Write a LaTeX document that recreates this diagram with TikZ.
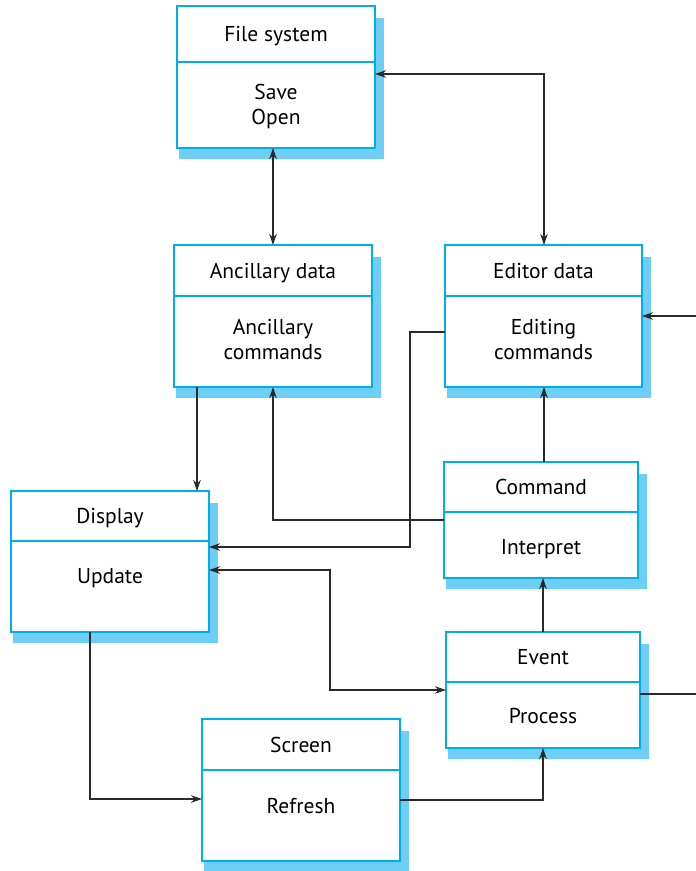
\documentclass[tikz,border=0pt]{standalone}
\usepackage{fontspec}
\setmainfont{PT Sans}
\usetikzlibrary{arrows.meta}
\definecolor{boxc}{HTML}{00AEEF}
\definecolor{shadowc}{HTML}{6DCFF6}
\definecolor{linec}{HTML}{2A2A2A}
\tikzset{
  umlframe/.style={draw=boxc, line width=1.6pt, fill=white, inner sep=0pt, outer sep=0pt},
  divline/.style={draw=boxc, line width=1.6pt},
  umltext/.style={font=\fontsize{21.5}{24.5}\selectfont, align=center, inner sep=0pt, text=black, anchor=base},
  conn/.style={draw=linec, line width=1.2pt},
  tip/.tip={Stealth[length=11pt,width=7.5pt]},
}
\newcommand\umlbox[9]{%
  \fill[shadowc] ({#2+2},{#3+12}) rectangle ({#4+9},{#5+11});
  \node[umlframe, minimum width=#4pt-#2pt, minimum height=#5pt-#3pt] (#1) at ({(#2+#4)/2},{(#3+#5)/2}) {};
  \draw[divline] (#2,#6) -- (#4,#6);
  \node[umltext] (#1-t) at ({(#2+#4)/2},{(#3+#6)/2+7.5}) {#7};
  \node[umltext] (#1-b) at ({(#2+#4)/2},{#6+#9}) {#8};
}
\begin{document}
\begin{tikzpicture}[x=1pt,y=-1pt]
\useasboundingbox (0,0) rectangle (696,871);
\umlbox{fs}{177}{6}{375}{148}{62}{File system}{Save\\Open}{62}
\umlbox{anc}{174}{245}{372}{387}{296}{Ancillary data}{Ancillary\\commands}{63}
\umlbox{ed}{445}{245}{642}{387}{296}{Editor data}{Editing\\commands}{63}
\umlbox{disp}{11}{491}{209}{632}{541}{Display}{Update}{42}
\umlbox{cmd}{444}{462}{638}{578}{512}{Command}{Interpret}{42}
\umlbox{ev}{446}{632}{640}{748}{682}{Event}{Process}{41}
\umlbox{scr}{202}{719}{400}{861}{770}{Screen}{Refresh}{43}
\coordinate (outR) at (696,694);
\coordinate (inR) at (696,316);
% connectors
\draw[conn,tip-tip] (anc.north |- fs.south) -- (anc.north);
\draw[conn,tip-tip] ([yshift=3pt]fs.east) -| ([xshift=0.5pt]ed.north);
\draw[conn,-tip] ([xshift=-76pt]anc.south) -- ([xshift=-76pt]anc.south |- disp.north);
\draw[conn,-tip] (cmd.west) -| (anc.south);
\draw[conn,-tip] ([yshift=-16pt]ed.west) -- ++(-35,0) |- ([yshift=14.5pt]disp.east);
\draw[conn,tip-tip] ([yshift=-8.5pt]disp.east) -- ++(121,0) |- (ev.west);
\draw[conn,-tip] ([xshift=-20pt]disp.south) |- ([yshift=-9pt]scr.west);
\draw[conn,-tip] ([yshift=-10pt]scr.east) -| (ev.south);
\draw[conn,-tip] (ev.north) -- (ev.north |- cmd.south);
\draw[conn,-tip] ([xshift=0.5pt]ed.south |- cmd.north) -- ([xshift=0.5pt]ed.south);
\draw[conn] ([yshift=-4pt]ev.east) -- (outR);
\draw[conn,-tip] (inR) -- (ed.east);
\end{tikzpicture}
\end{document}
